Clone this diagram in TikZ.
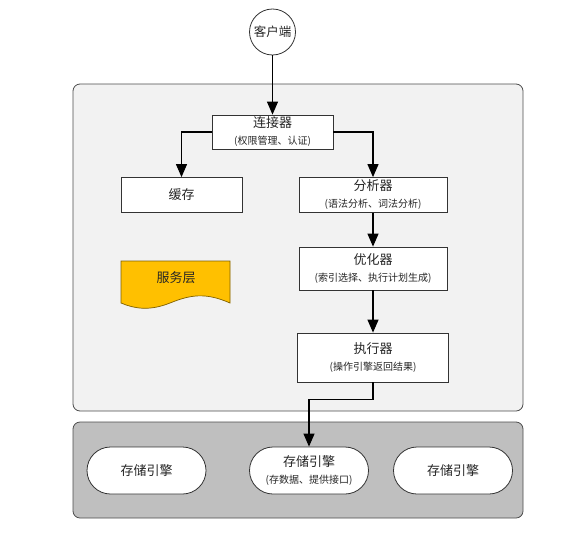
\documentclass[tikz,border=0pt]{standalone}
\usepackage{fontspec}
\setmainfont{Noto Sans CJK SC}
\usepackage{xcolor}
\usetikzlibrary{shapes, positioning, arrows.meta}

\definecolor{panelgray}{HTML}{F2F2F2}
\definecolor{storegray}{HTML}{BFBFBF}
\definecolor{docyellow}{HTML}{FFC000}
\definecolor{docedge}{HTML}{7F6000}
\newcommand{\subtext}[1]{{\fontsize{10}{12}\selectfont #1}}

\tikzset{
    box/.style={rectangle, draw=black!80, fill=white, line width=0.8pt, align=center,
        inner sep=1pt, font=\fontsize{13}{17}\selectfont, text=black!85},
    engine/.style={rounded rectangle, draw=black!80, fill=white, line width=0.8pt, align=center,
        minimum width=121, minimum height=47, inner sep=1pt, font=\fontsize{13}{17}\selectfont, text=black!85},
    panel/.style={rectangle, rounded corners=7pt, draw=black!70, line width=0.8pt},
    arr/.style={-{Triangle[length=13pt,width=11pt]}, line width=1.1pt, black}
}

\begin{document}
\begin{tikzpicture}[x=1pt, y=-1pt]
        \useasboundingbox (0,0) rectangle (588,538);

        % panels
        \node[panel, fill=panelgray, minimum width=450, minimum height=327] (service) at (298,247.5) {};
        \node[panel, fill=storegray, minimum width=450, minimum height=96] (storage) at (298,470) {};

        \node[circle, draw=black!80, fill=white, line width=0.8pt, minimum size=46, inner sep=0pt,
            font=\fontsize{12.5}{14}\selectfont, text=black!85] (client) at (272.5,32) {客户端};

        \node[box, minimum width=121, minimum height=34] (conn) at (272.5,132) {连接器\\\subtext{(权限管理、认证)}};
        \node[box, minimum width=121, minimum height=35] (cache) at (181.5,195) {缓存};
        \node[box, minimum width=148, minimum height=35] (analyzer) at (373,195) {分析器\\\subtext{(语法分析、词法分析)}};
        \node[box, minimum width=148, minimum height=43] (optimizer) at (373,268.5) {优化器\\\subtext{(索引选择、执行计划生成)}};
        \node[box, minimum width=151, minimum height=49] (executor) at (373,357.5) {执行器\\\subtext{(操作引擎返回结果)}};

        % service layer label
        \draw[fill=docyellow, draw=docedge, line width=0.7pt] (121,261) -- (230,261) -- (230,303)
            .. controls (205,292) and (190,295) .. (170,303)
            .. controls (150,311) and (135,309) .. (121,303) -- cycle;
        \node[font=\fontsize{13}{15}\selectfont, text=black!85] (layer) at (176,278) {服务层};

        \node[engine] (engine1) at (146.5,470.5) {存储引擎};
        \node[engine] (engine2) at (309,470.5) {存储引擎\\\subtext{(存数据、提供接口)}};
        \node[engine] (engine3) at (453,470.5) {存储引擎};

        \draw[arr] (client) -- (conn);
        \draw[arr] (conn.west) -| (cache);
        \draw[arr] (conn.east) -| (analyzer);
        \draw[arr] (analyzer) -- (optimizer);
        \draw[arr] (optimizer) -- (executor);
        \draw[arr] (executor.south) -- ++(0,17) -| (engine2.north);
    \end{tikzpicture}
\end{document}
